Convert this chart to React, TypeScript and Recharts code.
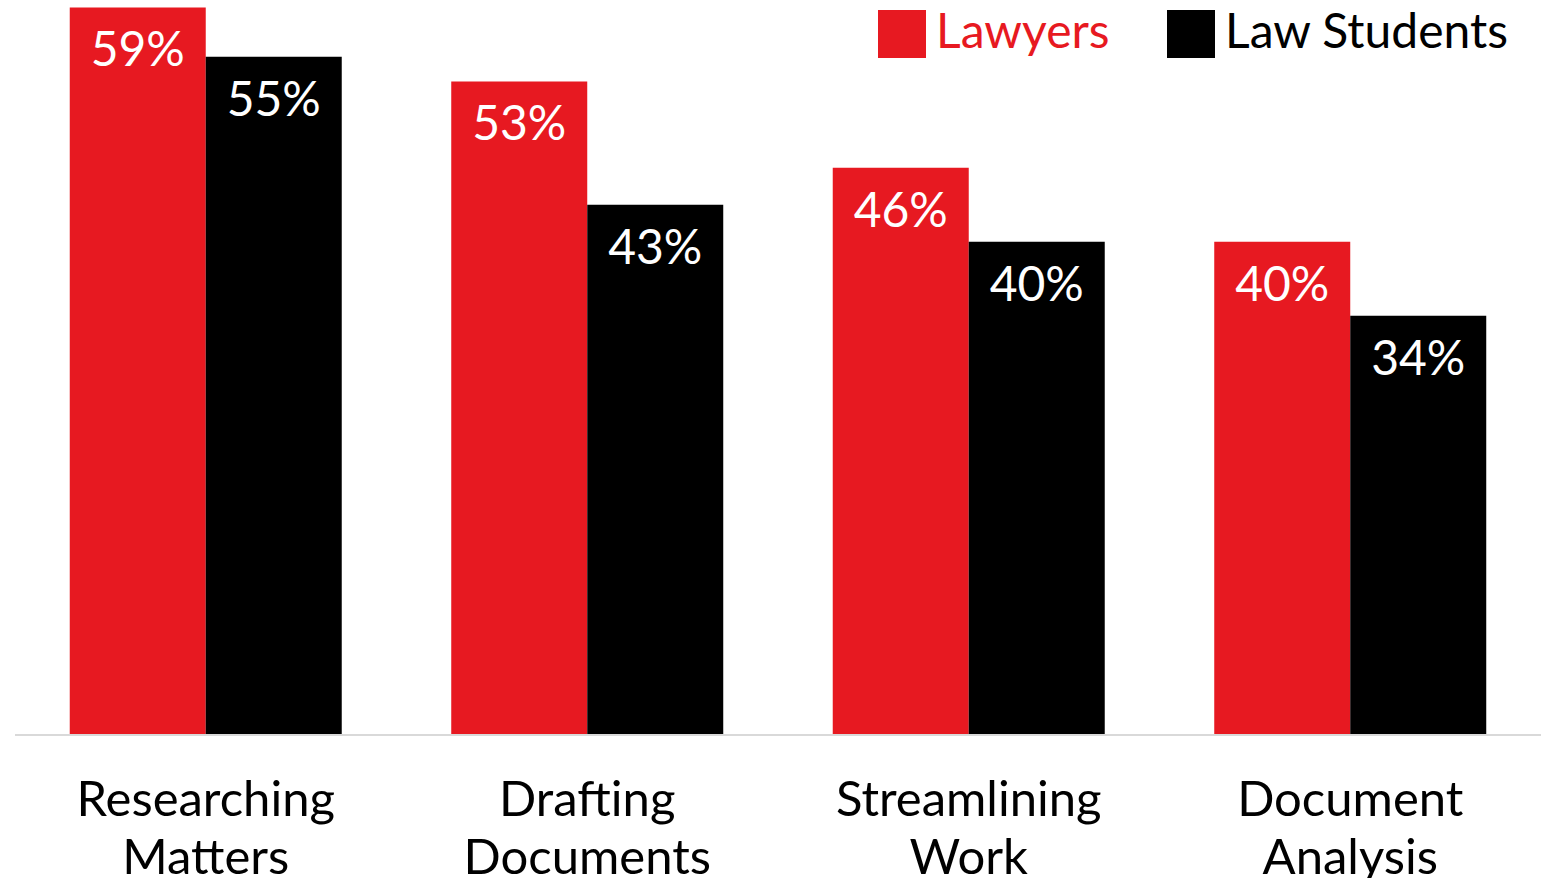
import React from "react";
import { BarChart, Bar, XAxis, YAxis, LabelList } from "recharts";

const categories = ["Researching Matters", "Drafting Documents", "Streamlining Work", "Document Analysis"];
const tickLines = [
  ["Researching", "Matters"],
  ["Drafting", "Documents"],
  ["Streamlining", "Work"],
  ["Document", "Analysis"],
];
const lawyers = [59, 53, 46, 40];
const lawStudents = [55, 43, 40, 34];
const seriesNames = ["Lawyers", "Law Students"];

const RED = "#e71921";
const BLACK = "#000000";
const FONT = "Lato, 'Open Sans', sans-serif";

const data = categories.map((c, i) => ({
  name: c,
  lawyers: lawyers[i],
  students: lawStudents[i],
}));

const Tick = (props: any) => {
  const { x, y, payload } = props;
  const lines = tickLines[payload.index] || [payload.value];
  return (
    <text x={x} y={y} textAnchor="middle" fontFamily={FONT} fontSize={49} fill="#000">
      <tspan x={x} dy={73}>{lines[0]}</tspan>
      <tspan x={x} dy={58}>{lines[1]}</tspan>
    </text>
  );
};

export default function App() {
  return (
    <div style={{ position: "absolute", left: 0, top: 0, width: 1547, height: 878, background: "#fff", overflow: "hidden" }}>
      <BarChart
        width={1547}
        height={878}
        data={data}
        margin={{ top: 0, right: 6, bottom: 0, left: 15 }}
        barCategoryGap="14.35%"
        barGap={0}
      >
        <XAxis
          dataKey="name"
          height={143}
          tick={<Tick />}
          tickLine={false}
          axisLine={{ stroke: "#d9d9d9", strokeWidth: 2 }}
          interval={0}
        />
        <YAxis hide domain={[0, 59.6]} allowDataOverflow />
        <Bar dataKey="lawyers" fill={RED} isAnimationActive={false}>
          <LabelList dataKey="lawyers" position="insideTop" offset={25} fill="#fff" fontSize={48} fontFamily={FONT} formatter={(v: any) => `${v}%`} />
        </Bar>
        <Bar dataKey="students" fill={BLACK} isAnimationActive={false}>
          <LabelList dataKey="students" position="insideTop" offset={25} fill="#fff" fontSize={48} fontFamily={FONT} formatter={(v: any) => `${v}%`} />
        </Bar>
      </BarChart>
      <div style={{ position: "absolute", left: 0, top: 0, width: 1547, height: 60, fontFamily: FONT, fontSize: 48 }}>
        <div style={{ position: "absolute", left: 878, top: 10, width: 48, height: 48, background: RED }} />
        <div style={{ position: "absolute", left: 936, top: 2, color: RED, lineHeight: "56px", whiteSpace: "nowrap" }}>{seriesNames[0]}</div>
        <div style={{ position: "absolute", left: 1167, top: 10, width: 48, height: 48, background: BLACK }} />
        <div style={{ position: "absolute", left: 1225, top: 2, color: BLACK, lineHeight: "56px", whiteSpace: "nowrap" }}>{seriesNames[1]}</div>
      </div>
    </div>
  );
}
